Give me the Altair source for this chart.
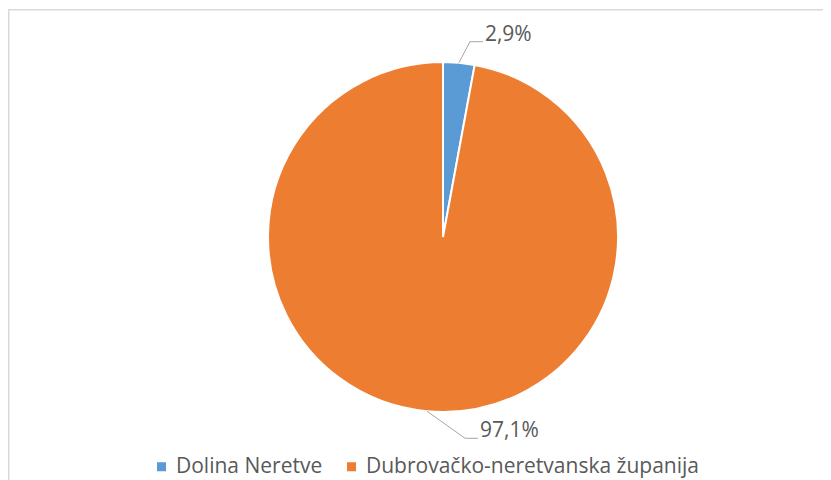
import math
import altair as alt
import pandas as pd

# ---- data ----
categories = ["Dolina Neretve", "Dubrovačko-neretvanska županija"]
shares = [2.9, 97.1]
labels = ["2,9%", "97,1%"]
colors = ["#5B9BD5", "#ED7D31"]

# ---- layout constants ----
W, H = 815, 472
CX, CY = 435, 229          # pie centre in the svg
R = 175
ELBOW = [(11, 21), (38, -27)]   # leader elbow offsets (y up)
RUN = 13                      # horizontal leader run
FONT = "Open Sans"
FS = 21
TXT = "#595959"

df = pd.DataFrame({"category": categories, "share": shares, "label": labels,
                   "idx": list(range(len(categories)))})

# leader lines and label anchors computed from the slice mid angles
total = sum(shares)
line_rows, text_rows = [], []
cum = 0.0
for i, (s, lab) in enumerate(zip(shares, labels)):
    mid = (cum + s / 2) / total * 2 * math.pi
    cum += s
    x0, y0 = R * math.sin(mid), R * math.cos(mid)
    x1, y1 = x0 + ELBOW[i][0], y0 + ELBOW[i][1]
    x2, y2 = x1 + RUN, y1
    for k, (xx, yy) in enumerate([(x0, y0), (x1, y1), (x2, y2)]):
        line_rows.append({"label": lab, "o": k, "x": xx, "y": yy})
    text_rows.append({"label": lab, "x": x2 + 2, "y": y2 + 1})

lines_df = pd.DataFrame(line_rows)
text_df = pd.DataFrame(text_rows)

xs = alt.Scale(domain=[-CX, W - CX], nice=False, zero=False)
ys = alt.Scale(domain=[CY - H, CY], nice=False, zero=False)

pie = alt.Chart(df).mark_arc(
    outerRadius=R, stroke="white", strokeWidth=2, x=CX, y=CY
).encode(
    theta=alt.Theta("share:Q", stack=True),
    order=alt.Order("idx:Q"),
    color=alt.Color(
        "category:N",
        scale=alt.Scale(domain=categories, range=colors),
        sort=categories,
        legend=alt.Legend(
            title=None, orient="none", legendX=143, legendY=448,
            direction="horizontal", symbolType="square", symbolSize=81,
            symbolStrokeWidth=0, labelFont=FONT, labelFontSize=FS,
            labelColor=TXT, labelLimit=0, labelOffset=4, columnPadding=18,
            padding=0,
        ),
    ),
)

leaders = alt.Chart(lines_df).mark_line(color="#A6A6A6", strokeWidth=1).encode(
    x=alt.X("x:Q", scale=xs, axis=None),
    y=alt.Y("y:Q", scale=ys, axis=None),
    detail="label:N",
    order="o:Q",
)

texts = alt.Chart(text_df).mark_text(
    align="left", baseline="alphabetic", font=FONT, fontSize=FS, color=TXT
).encode(
    x=alt.X("x:Q", scale=xs, axis=None),
    y=alt.Y("y:Q", scale=ys, axis=None),
    text="label:N",
)

frame_df = pd.DataFrame({"a": [0]})
left_border = alt.Chart(frame_df).mark_rule(color="#D9D9D9", strokeWidth=1.5).encode(
    x=alt.value(0.75), y=alt.value(1.5), y2=alt.value(H)
)
top_border = alt.Chart(frame_df).mark_rule(color="#D9D9D9", strokeWidth=1.5).encode(
    x=alt.value(0), x2=alt.value(W), y=alt.value(1.75)
)

chart = alt.layer(left_border, top_border, pie, leaders, texts).properties(
    width=W, height=H, padding=0, autosize=alt.AutoSizeParams(type="none"),
    background="white",
).configure_view(stroke=None)

chart.save("out.html", embed_options={"renderer": "svg", "actions": False})
